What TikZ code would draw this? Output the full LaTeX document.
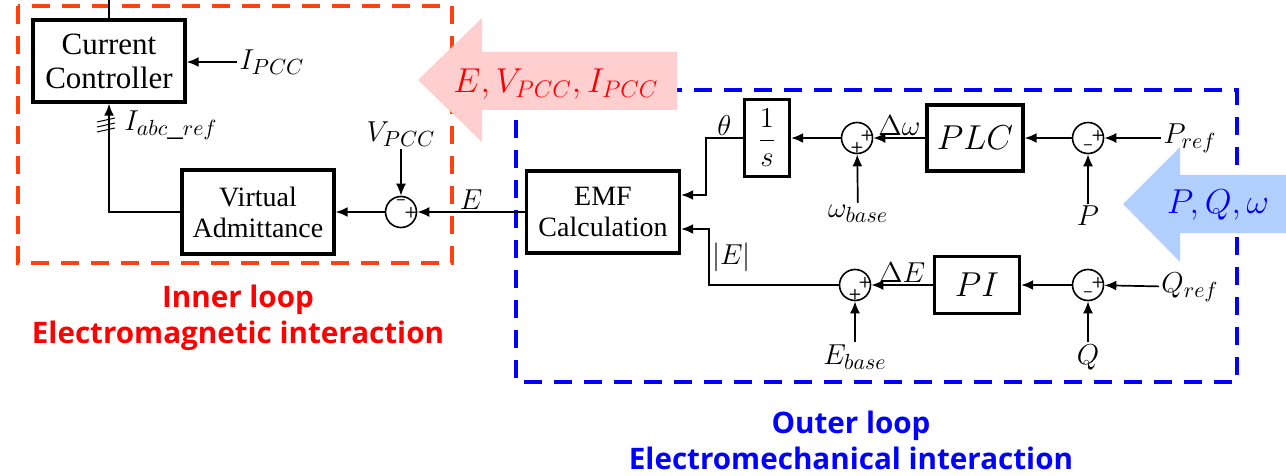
\documentclass[tikz,border=0pt]{standalone}
\usepackage{fontspec}
\setmainfont{Liberation Serif}
\newfontfamily\loopfont{Open Sans}
\usetikzlibrary{arrows.meta}

\definecolor{innerred}{RGB}{255,64,16}
\definecolor{capred}{RGB}{255,0,0}
\definecolor{outerblue}{RGB}{0,0,255}
\definecolor{pinkfill}{RGB}{255,206,206}
\definecolor{bluefill}{RGB}{178,208,255}

\begin{document}
\begin{tikzpicture}[
    x=0.5pt,
    y=-0.5pt,
    block/.style={draw, line width=1.7pt, align=center, inner sep=0pt,
      font=\fontsize{14}{15.5}\selectfont},
    sumnode/.style={draw, circle, line width=0.8pt, minimum size=15.5pt, inner sep=0pt},
    sign/.style={font=\sffamily\bfseries\fontsize{7.5}{7.5}\selectfont, inner sep=0pt},
    wire/.style={line width=0.85pt},
    sig/.style={wire, -{Latex[length=6pt,width=5pt]}},
    var/.style={font=\fontsize{15.5}{16}\selectfont, inner sep=1pt},
    loopbox/.style={line width=2pt, dash pattern=on 9pt off 6pt},
    listtext/.style={font=\fontsize{18}{20}\selectfont, inner sep=0pt},
    caption/.style={font=\loopfont\bfseries\fontsize{14.8}{18}\selectfont, align=center}
  ]
  \useasboundingbox (0,0) rectangle (1286,476);

  \draw[loopbox, draw=innerred] (18,6) rectangle (452,263);
  \draw[loopbox, draw=outerblue] (516,90) rectangle (1237,382);

  \fill[pinkfill] (418,80) -- (482,18) -- (482,52) -- (677,52) --
    (677,110) -- (482,110) -- (482,142) -- cycle;
  \node[listtext, text=red] (ilist) at (556,84) {$E,V_{PCC},I_{PCC}$};
  \fill[bluefill] (1123,204) -- (1180,147) -- (1180,175) -- (1286,175) --
    (1286,233) -- (1180,233) -- (1180,262) -- cycle;
  \node[listtext, text=outerblue] (olist) at (1218,205) {$P,Q,\omega$};

  % inner loop
  \node[block, minimum width=76pt, minimum height=41pt, font=\fontsize{15.5}{17}\selectfont] (cc) at (109,61) {Current\\Controller};
  \node[block, minimum width=76pt, minimum height=42pt] (va) at (258,212) {Virtual\\Admittance};
  \node[sumnode] (sv) at (401,212) {};
  \node[sign] (sv-a) at ([yshift=5pt]sv) {--};
  \node[sign] (sv-b) at ([xshift=5pt,yshift=-0.5pt]sv) {+};

  \node[var] (ipcc) at (272,62) {$I_{PCC}$};
  \node[var, anchor=west] (iabc) at (122,125) {$I_{abc\_ref}$};
  \node[var] (vpcc) at (401,134) {$V_{PCC}$};

  \coordinate (top) at (109,0);
  \coordinate (bus) at (106,125);
  \draw[wire] (cc) -- (top);
  \draw[sig] (ipcc.west) -- (ipcc.west -| cc.east);
  \draw[sig] (va.west) -| (cc.south);
  \foreach \dy in {-5,0,5}
    \draw[line width=0.5pt] ([shift={(-9,\dy+2)}]bus) -- ([shift={(9,\dy-2)}]bus);
  \draw[sig] (vpcc) -- (sv);
  \draw[sig] (sv) -- (va);

  % outer loop
  \node[block, minimum width=76.5pt, minimum height=41pt] (emf) at (603,212) {EMF\\Calculation};
  \node[block, minimum width=22.5pt, minimum height=38.5pt] (integ) at (767,138) {$\displaystyle\frac{1}{s}$};
  \node[block, minimum width=48pt, minimum height=33pt, font=\fontsize{16.5}{18}\selectfont] (plc) at (975,138) {$PLC$};
  \node[block, minimum width=42.5pt, minimum height=28.5pt, font=\fontsize{16.5}{18}\selectfont] (pi) at (977,285) {$PI$};

  \node[sumnode] (sw) at (857,138) {};
  \node[sign] (sw-a) at ([xshift=5pt,yshift=1pt]sw) {+};
  \node[sign] (sw-b) at ([yshift=-5pt]sw) {+};
  \node[sumnode] (sp) at (1088,138) {};
  \node[sign] (sp-a) at ([xshift=5pt,yshift=1pt]sp) {+};
  \node[sign] (sp-b) at ([yshift=-4.5pt]sp) {--};
  \node[sumnode] (se) at (855,285) {};
  \node[sign] (se-a) at ([xshift=5pt,yshift=1pt]se) {+};
  \node[sign] (se-b) at ([yshift=-5pt]se) {+};
  \node[sumnode] (sq) at (1088,285) {};
  \node[sign] (sq-a) at ([xshift=5pt,yshift=1pt]sq) {+};
  \node[sign] (sq-b) at ([yshift=-4.5pt]sq) {--};

  \node[var] (pref) at (1190,138) {$P_{ref}$};
  \node[var] (pmeas) at (1088,216) {$P$};
  \node[var] (wbase) at (858,214) {$\omega_{base}$};
  \node[var] (qref) at (1190,287) {$Q_{ref}$};
  \node[var] (qmeas) at (1088,357) {$Q$};
  \node[var] (ebase) at (855,357) {$E_{base}$};

  \coordinate (emfin1) at ([yshift=8.5pt]emf.east);
  \coordinate (emfin2) at ([yshift=-8.5pt]emf.east);

  \draw[sig] (emf) -- node[var, above] (elbl) {$E$} (sv);
  \draw[sig] (integ.west) -- node[var, above] (th) {$\theta$} ++(-37,0) |- (emfin1);
  \draw[sig] (se) -| node[var, pos=0.75, right] (mag) {$|E|$} ([xshift=14pt]emfin2) -- (emfin2);
  \draw[sig] (sw) -- (integ);
  \draw[sig] (plc) -- node[var, above] (dw) {$\Delta\omega$} (sw);
  \draw[sig] (sp) -- (plc);
  \draw[sig] (pref) -- (sp);
  \draw[sig] (pmeas) -- (sp);
  \draw[sig] (wbase) -- (sw);
  \draw[sig] (pi) -- node[var, above] (de) {$\Delta E$} (se);
  \draw[sig] (sq) -- (pi);
  \draw[sig] (qref) -- (sq);
  \draw[sig] (qmeas) -- (sq);
  \draw[sig] (ebase) -- (se);

  \node[caption, text=capred] (innercap) at (238,318) {Inner loop\\Electromagnetic interaction};
  \node[caption, text=outerblue] (outercap) at (851,440) {Outer loop\\Electromechanical interaction};
\end{tikzpicture}
\end{document}
